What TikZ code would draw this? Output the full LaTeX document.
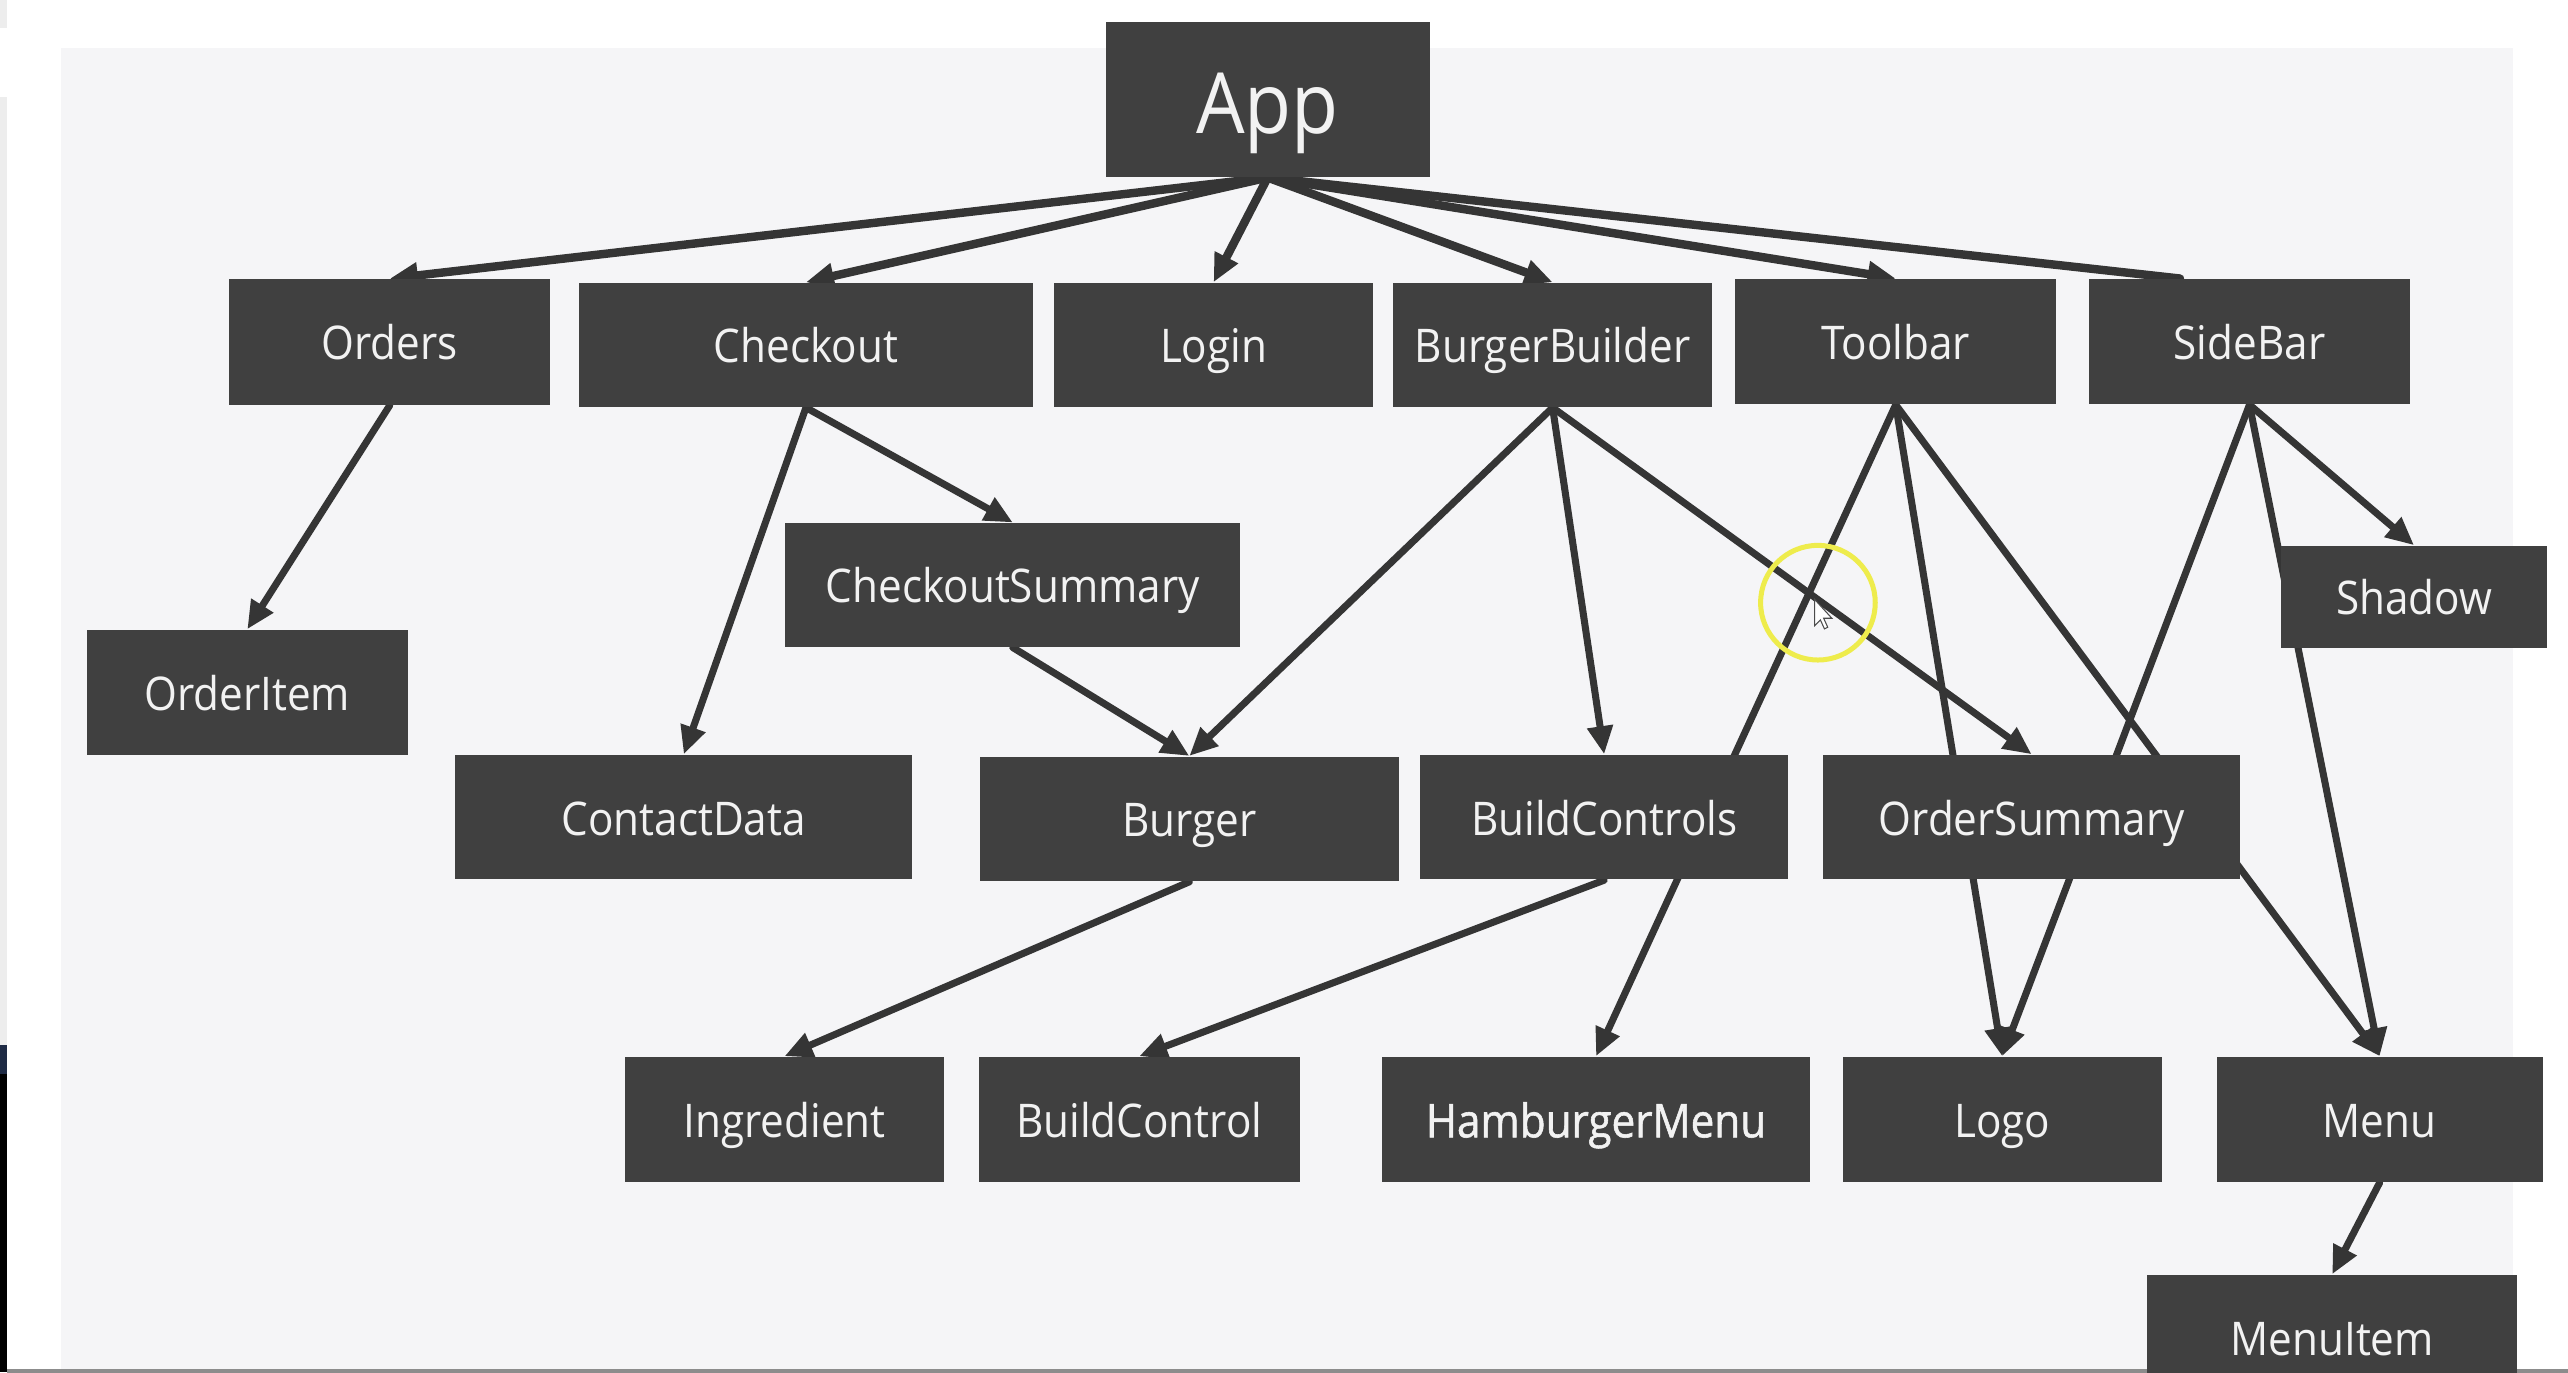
\documentclass[tikz,border=0pt]{standalone}
\usepackage{fontspec}
\setmainfont{Open Sans}[FakeStretch=0.91]
\newfontfamily\medfont{Open Sans}[FakeStretch=0.91,FakeBold=1.2]
\usetikzlibrary{arrows.meta,calc}
\pgfdeclarelayer{back}
\pgfdeclarelayer{edges}
\pgfsetlayers{back,edges,main}
\definecolor{boxfill}{HTML}{404040}
\definecolor{edgecol}{HTML}{353535}
\definecolor{slidebg}{HTML}{F5F5F7}
\definecolor{boxtext}{HTML}{F2F2F2}
\definecolor{hilite}{HTML}{EEEC4C}
\definecolor{navystrip}{HTML}{1E2A44}
\def\U{0.016378cm}
\tikzset{
  box/.style={rectangle, fill=boxfill, text=boxtext, inner sep=0pt,
    font=\fontsize{13.2pt}{15pt}\selectfont, text height=10.2pt, text depth=0pt},
  conn/.style={draw=edgecol, line width=2pt, line cap=round,
    -{Triangle[length=8pt,width=7pt]}},
  plainconn/.style={draw=edgecol, line width=2pt, line cap=round},
  topconn/.style={conn, line width=2.4pt}
}
\newcommand\cbox[6]{\node[box, minimum width={#3*\U}, minimum height={#4*\U}, #6] (#1) at (#2) {#5};}
\begin{document}
\begin{tikzpicture}[x=0.016378cm, y=-0.016378cm]
\useasboundingbox (0,0) rectangle (1568,838);
\clip (0,0) rectangle (1568,838);
\begin{pgfonlayer}{back}
  \fill[white] (0,0) rectangle (1568,838);
  \fill[slidebg] (37.5,29.5) rectangle (1534.5,845);
  \fill[black!7] (0,0) rectangle (4.3,17);
  \fill[black!7] (0,59) rectangle (4.3,638);
  \fill[black] (0,638) rectangle (4.3,838);
  \fill[navystrip] (0,638) rectangle (4.3,656);
  \draw[black!45, line width=0.04cm] (4.3,837) -- (1568,837);
\end{pgfonlayer}

\cbox{App}{774,60.7}{198}{94.6}{App}{font=\fontsize{24pt}{28pt}\selectfont, text height=19.3pt}
\cbox{Orders}{238,208.8}{196}{76.5}{Orders}{}
\cbox{Checkout}{492.1,210.6}{277.2}{75.7}{Checkout}{}
\cbox{Login}{741,210.6}{194.7}{75.7}{Login}{}
\cbox{BurgerBuilder}{948,210.6}{195.1}{75.7}{BurgerBuilder}{}
\cbox{Toolbar}{1157.5,208.6}{196}{76.2}{Toolbar}{}
\cbox{SideBar}{1373.5,208.6}{196}{76.2}{SideBar}{}
\cbox{CheckoutSummary}{618.4,357.2}{277.8}{75.5}{CheckoutSummary}{}
\cbox{OrderItem}{151,422.8}{196}{76.3}{OrderItem}{}
\cbox{Shadow}{1474,364.5}{162}{62.3}{Shadow}{}
\cbox{ContactData}{417.5,499}{279}{76}{ContactData}{}
\cbox{Burger}{726.2,500}{255.5}{76}{Burger}{}
\cbox{BuildControls}{979.5,499}{225}{76}{BuildControls}{}
\cbox{OrderSummary}{1240.5,499}{255}{76}{OrderSummary}{}
\cbox{Ingredient}{479,683.5}{194.8}{76.3}{Ingredient}{}
\cbox{BuildControl}{695.6,683.5}{196}{76.3}{BuildControl}{}
\cbox{HamburgerMenu}{974.5,683.5}{261}{76.3}{\medfont HamburgerMenu}{}
\cbox{Logo}{1222.5,683.5}{195}{76.3}{Logo}{}
\cbox{Menu}{1453,683.5}{199}{76.3}{Menu}{}
\cbox{MenuItem}{1424,816.5}{226}{76}{MenuItem}{}

\coordinate (sbend) at ($(SideBar.north west)+(56,0)$);

\begin{pgfonlayer}{edges}
  \draw[topconn] (App.south) -- (Orders.north);
  \draw[topconn] (App.south) -- (Checkout.north);
  \draw[topconn] (App.south) -- (Login.north);
  \draw[topconn] (App.south) -- (BurgerBuilder.north);
  \draw[topconn] (App.south) -- (Toolbar.north);
  \draw[plainconn, line width=2.4pt] (App.south) -- (sbend);
  \draw[conn] (Orders.south) -- (OrderItem.north);
  \draw[conn] (Checkout.south) -- (ContactData.north);
  \draw[conn] (Checkout.south) -- (CheckoutSummary.north);
  \draw[conn] (CheckoutSummary.south) -- (Burger.north);
  \draw[conn] (BurgerBuilder.south) -- (Burger.north);
  \draw[conn] (BurgerBuilder.south) -- (BuildControls.north);
  \draw[conn] (BurgerBuilder.south) -- (OrderSummary.north);
  \draw[conn] (Toolbar.south) -- (HamburgerMenu.north);
  \draw[conn] (Toolbar.south) -- (Logo.north);
  \draw[conn] (Toolbar.south) -- (Menu.north);
  \draw[conn] (SideBar.south) -- (Logo.north);
  \draw[conn] (SideBar.south) -- (Shadow.north);
  \draw[conn] (SideBar.south) -- (Menu.north);
  \draw[conn] (Menu.south) -- (MenuItem.north);
  \draw[conn] (Burger.south) -- (Ingredient.north);
  \draw[conn] (BuildControls.south) -- (BuildControl.north);
\end{pgfonlayer}

% cursor highlight
\draw[hilite, line width=0.05cm] (1110,368) circle[radius=35];
\draw[black!70, fill=white, line width=0.3pt]
  (1108,366) -- (1108,382) -- (1111.5,378.5) -- (1114,384) -- (1116,383) -- (1113.5,377.5) -- (1118.5,377.5) -- cycle;
\end{tikzpicture}
\end{document}
